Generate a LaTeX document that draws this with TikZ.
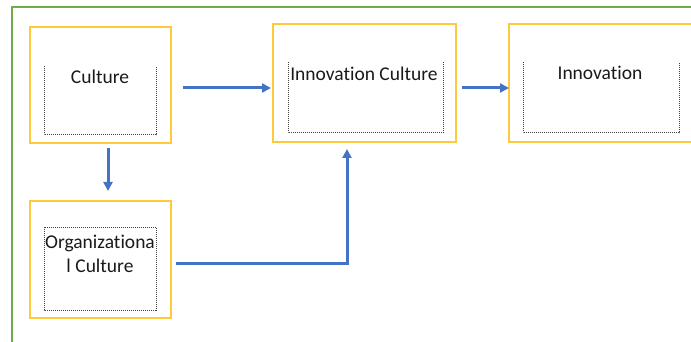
\documentclass[tikz,border=0pt]{standalone}
\usepackage{fontspec}
\setmainfont{Carlito}[Ligatures={NoCommon}]
\usetikzlibrary{arrows.meta}
\definecolor{frameg}{HTML}{70AD47}
\definecolor{boxy}{HTML}{FFC83D}
\definecolor{arrb}{HTML}{4472C4}
\definecolor{txt}{HTML}{1A1A1A}
\tikzset{
  outerbox/.style={draw=boxy, line width=1.4pt},
  innerdot/.style={draw=black!75, dash pattern=on 1pt off 1pt, line width=1pt},
  conn/.style={draw=arrb, line width=3pt, -{Triangle[length=9pt,width=9pt]}},
  lbl/.style={font=\fontsize{19.5}{24}\selectfont, text=txt, inner sep=0pt, align=center}
}
\begin{document}
\begin{tikzpicture}[x=1pt,y=-1pt]
\useasboundingbox (0,0) rectangle (691,342);
\fill[white] (0,0) rectangle (691,342);
% green frame
\draw[frameg, line width=1.4pt] (12,345) -- (12,7) -- (695,7);
% boxes
\node[outerbox, minimum width=141pt, minimum height=116pt, inner sep=0pt] (cul) at (100.5,85) {};
\node[outerbox, minimum width=141pt, minimum height=117pt, inner sep=0pt] (org) at (100.5,259.5) {};
\node[outerbox, minimum width=183pt, minimum height=118pt, inner sep=0pt] (ic) at (364.5,83) {};
\draw[boxy, line width=1.4pt] (695,24) -- (509,24) -- (509,142) -- (695,142);
\coordinate (inn) at (509,88);
% dotted inner frames
\draw[innerdot] (44,66) -- (44,135) -- (156,135) -- (156,66);
\draw[innerdot] (44,227) rectangle (156,310);
\draw[innerdot] (288,62) -- (288,133) -- (443,133) -- (443,62);
\draw[innerdot] (523,62) -- (523,133) -- (679,133) -- (679,62);
% labels
\node[lbl] (tcul) at (100,77) {Culture};
\node[lbl] (torg) at (100,254) {Organizationa\\l Culture};
\node[lbl] (tic) at (364,74) {Innovation Culture};
\node[lbl] (tinn) at (600,73) {Innovation};
% connectors
\coordinate (a1s) at (183,88);
\coordinate (a1e) at (271,88);
\draw[conn] (a1s) -- (a1e);
\coordinate (a2s) at (462,88);
\draw[conn] (a2s) -- (inn);
\coordinate (a3s) at (108,148);
\coordinate (a3e) at (108,191);
\draw[conn] (a3s) -- (a3e);
\coordinate (a4s) at (176,263);
\coordinate (a4m) at (347,263);
\coordinate (a4e) at (347,149);
\draw[conn] (a4s) -- (a4m) -- (a4e);
\end{tikzpicture}
\end{document}
